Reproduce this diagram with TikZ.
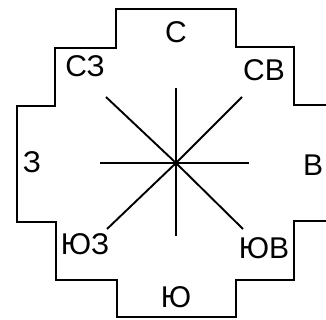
\documentclass[tikz,border=0pt]{standalone}
\usepackage{fontspec}
\setmainfont{Liberation Sans}
\usetikzlibrary{positioning}
\tikzset{
  dirlabel/.style={font=\fontsize{30}{34}\selectfont, inner sep=0pt},
  ray/.style={draw=black, line width=1.9pt},
  outline/.style={draw=black, line width=2pt},
}

\begin{document}
\begin{tikzpicture}[x=1pt, y=-1pt]
\useasboundingbox (0,0) rectangle (326,320);
% Stepped border (right side runs off the page)
\draw[outline] (326,105) -- (294,105) -- (294,47) -- (236,47) -- (236,9) -- (116,9)
  -- (116,48) -- (55,48) -- (55,106) -- (17,106) -- (17,222) -- (56,222)
  -- (56,280) -- (117,280) -- (117,317) -- (236,317) -- (236,280)
  -- (294,280) -- (294,221) -- (326,221);

% Rays
\coordinate (ctr) at (176,163);
\coordinate (rN) at (176,88);
\coordinate (rS) at (176,236);
\coordinate (rW) at (100,163);
\coordinate (rE) at (249,163);
\coordinate (rNW) at (106,97);
\coordinate (rNE) at (242,97);
\coordinate (rSW) at (107,229);
\coordinate (rSE) at (243,229);
\foreach \r in {rN,rS,rW,rE,rNW,rNE,rSW,rSE}
  \draw[ray] (ctr) -- (\r);

% Labels
\node[dirlabel] (north) at (176,32) {С};
\node[dirlabel] (northwest) at (85,66) {СЗ};
\node[dirlabel] (northeast) at (264,70) {СВ};
\node[dirlabel] (west) at (32,162) {З};
\node[dirlabel] (east) at (313,165) {В};
\node[dirlabel] (southwest) at (85,244) {ЮЗ};
\node[dirlabel] (southeast) at (264,248) {ЮВ};
\node[dirlabel] (south) at (176,297) {Ю};
\end{tikzpicture}
\end{document}
